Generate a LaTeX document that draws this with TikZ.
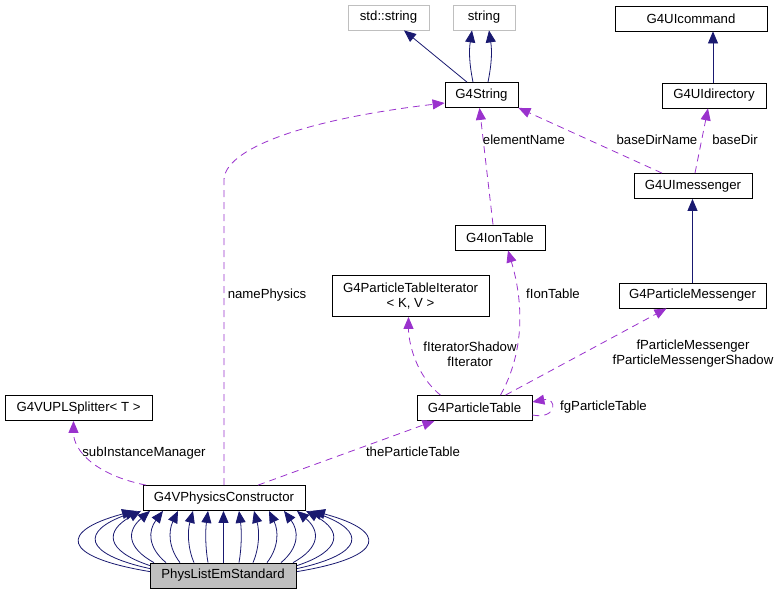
\documentclass[tikz,border=0pt]{standalone}
\usepackage{fontspec}
\setmainfont{Liberation Sans}
\usetikzlibrary{arrows.meta}
\definecolor{navyblue}{HTML}{191970}
\definecolor{usepurple}{HTML}{9A32CD}
\begin{document}
\begin{tikzpicture}[x=1pt, y=-1pt,
	cls/.style={draw=black, fill=white, line width=0.8pt, inner sep=0pt, minimum height=25pt, align=center, font=\fontsize{13.2}{15}\selectfont},
	ext/.style={cls, draw=gray!50},
	inh/.style={navyblue, line width=0.8pt, -{Triangle[length=12pt,width=10pt]}},
	use/.style={usepurple, line width=0.8pt, dash pattern=on 7pt off 5pt, -{Triangle[length=12pt,width=10pt]}},
	lbl/.style={inner sep=0pt, align=center, font=\fontsize{13.2}{15}\selectfont}]
	\useasboundingbox (0,0) rectangle (779,595);
	%%
	\node[ext, minimum width=81pt] (stdstr) at (388.5,17.5) {std::string};
	\node[ext, minimum width=62pt] (str) at (484,17.5) {string};
	\node[cls, minimum width=73pt] (g4str) at (481.5,95) {G4String};
	\node[cls, minimum width=152pt] (uicmd) at (691,18.5) {G4UIcommand};
	\node[cls, minimum width=104pt] (uidir) at (714,95.5) {G4UIdirectory};
	\node[cls, minimum width=118pt] (uimsg) at (693,186) {G4UImessenger};
	\node[cls, minimum width=90pt] (iontab) at (500,237.5) {G4IonTable};
	\node[cls, minimum width=157pt, minimum height=41pt] (ptiter) at (410.5,296) {G4ParticleTableIterator\\< K, V >};
	\node[cls, minimum width=147pt] (pmsg) at (692.5,295.5) {G4ParticleMessenger};
	\node[cls, minimum width=115pt] (ptab) at (474.5,408) {G4ParticleTable};
	\node[cls, minimum width=147pt] (upl) at (78.5,408) {G4VUPLSplitter< T >};
	\node[cls, minimum width=162pt] (gvpc) at (224,498) {G4VPhysicsConstructor};
	\node[cls, minimum width=146pt, fill=gray!50] (plse) at (223,575.5) {PhysListEmStandard};
	%%
	\draw[inh] ([xshift=-14.5pt]g4str.north) -- ([xshift=15.5pt]stdstr.south);
	\draw[inh] ([xshift=-8.5pt]g4str.north) .. controls +(-4,-20) and +(-3,20) .. ([xshift=-12pt]str.south);
	\draw[inh] ([xshift=6.5pt]g4str.north) .. controls +(4,-20) and +(3,20) .. ([xshift=5pt]str.south);
	\draw[inh] ([xshift=-1pt]uidir.north) -- ([xshift=22pt]uicmd.south);
	\draw[inh] (pmsg.north) -- (pmsg.north |- uimsg.south);
	%%
	\draw[use] (gvpc.north) -- ++(0,-305) .. controls +(0,-30) and +(-145,17) .. ([yshift=-8pt]g4str.west);
	\node[lbl] (lnamephys) at (267,295) {namePhysics};
	\draw[use] ([xshift=-7pt]iontab.north) -- ([xshift=-2pt]g4str.south);
	\node[lbl] (lelemname) at (524,140) {elementName};
	\draw[use] ([xshift=-31pt]uimsg.north) -- (g4str.south east);
	\node[lbl] (lbasedirname) at (657,140) {baseDirName};
	\draw[use] ([xshift=2pt]uimsg.north) -- ([xshift=-6pt]uidir.south);
	\node[lbl] (lbasedir) at (735,140) {baseDir};
	\draw[use] ([xshift=26pt]ptab.north) .. controls +(25,-45) and +(15,50) .. ([xshift=8pt]iontab.south);
	\node[lbl] (liontab) at (553,294) {fIonTable};
	\draw[use] ([xshift=-34pt]ptab.north) .. controls +(-25,-20) and +(0,25) .. ([xshift=-2pt]ptiter.south);
	\node[lbl] (literator) at (470,354) {fIteratorShadow\\fIterator};
	\draw[use] ([xshift=31pt]ptab.north) -- ([xshift=-26pt]pmsg.south);
	\node[lbl] (lpmsg) at (693,354) {fParticleMessenger\\fParticleMessengerShadow};
	\draw[use] ([yshift=-7pt]ptab.east) .. controls +(25,5) and +(25,-5) .. ([yshift=6pt]ptab.east);
	\node[lbl] (lgptab) at (603.5,407) {fgParticleTable};
	\draw[use] ([xshift=34pt]gvpc.north) -- ([xshift=-40pt]ptab.south);
	\node[lbl] (lptab) at (413,452) {theParticleTable};
	\draw[use] ([xshift=-78pt]gvpc.north) .. controls +(-50,-10) and +(0,30) .. ([xshift=-5pt]upl.south);
	\node[lbl] (lsubinst) at (144,453) {subInstanceManager};
	%%
	\draw[inh] ([xshift=0.5pt]plse.north) -- ([xshift=-0.5pt]gvpc.south);
	\foreach \sx/\sy/\hx/\b in {208/0/208/205.3, 194/0/193/187.5, 180/0/178/168.3, 166/0/163/147.9,
		154/0/150/126.7, 150/3/141/104.8, 150/6/137/81.5, 150/9/134/59.3}{
		\draw[inh] ([xshift=\sx pt-223pt, yshift=-\sy pt]plse.north) .. controls +(\b-\sx,-15) and +(\b-\hx,20) .. ([xshift=\hx pt-224pt]gvpc.south);
		\draw[inh] ([xshift=224pt-\sx pt, yshift=-\sy pt]plse.north) .. controls +(\sx-\b,-15) and +(\hx-\b,20) .. ([xshift=223pt-\hx pt]gvpc.south);
	}
\end{tikzpicture}
\end{document}
